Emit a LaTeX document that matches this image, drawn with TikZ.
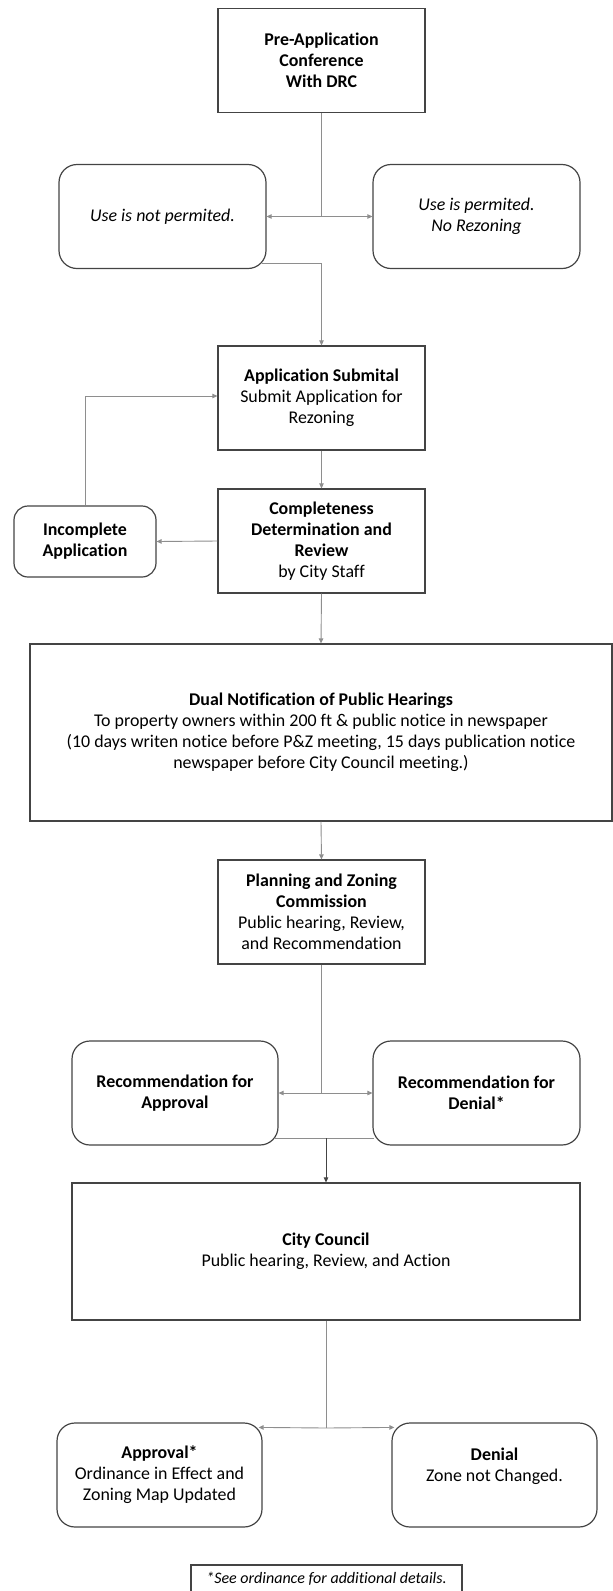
\documentclass[tikz,border=0pt]{standalone}
\usepackage{fontspec}
\setmainfont{Carlito}[Ligatures=NoCommon]
\usetikzlibrary{arrows.meta, positioning, calc}
\definecolor{boxline}{HTML}{444444}
\definecolor{linkline}{HTML}{8E8E8E}

\begin{document}
\begin{tikzpicture}[x=1pt, y=-1pt,
    stepbox/.style={rectangle, draw=boxline, line width=1.2pt, minimum width=207pt, minimum height=104pt, inner sep=2pt, align=center},
    choicebox/.style={stepbox, rounded corners=18pt},
    link/.style={draw=linkline, line width=0.9pt},
    arrow/.style={link, -{Triangle[length=5pt, width=4.5pt]}},
    font=\fontsize{17.9}{21}\selectfont
  ]
  \useasboundingbox (0, 0) rectangle (613, 1591);

  \node[stepbox] (pre) at (321.5, 60.5) {\textbf{Pre-Application}\\\textbf{Conference}\\\textbf{With DRC}};
  \node[choicebox] (notok) at (162.5, 216.5) {\textit{Use is not permited.}};
  \node[choicebox] (ok) at (476.5, 216.5) {\textit{Use is permited.}\\\textit{No Rezoning}};

  \node[stepbox] (submit) at (321.5, 398) {\textbf{Application Submital}\\Submit Application for\\Rezoning};
  \node[stepbox] (review) at (321.5, 541) {\textbf{Completeness}\\\textbf{Determination and}\\\textbf{Review}\\by City Staff};
  \node[choicebox, rounded corners=14pt, minimum width=142pt, minimum height=71pt] (incomplete) at (85, 541.5) {\textbf{Incomplete}\\\textbf{Application}};

  \node[stepbox, minimum width=582pt, minimum height=177pt] (notice) at (321, 732.5)
    {\textbf{Dual Notification of Public Hearings}\\To property owners within 200 ft \& public notice in newspaper\\(10 days writen notice before P\&Z meeting, 15 days publication notice\\newspaper before City Council meeting.)};
  \node[stepbox] (pz) at (321.5, 912) {\textbf{Planning and Zoning}\\\textbf{Commission}\\Public hearing, Review,\\and Recommendation};

  \node[choicebox, minimum width=206pt] (recyes) at (175, 1093) {\textbf{Recommendation for}\\\textbf{Approval}};
  \node[choicebox] (recno) at (476.5, 1093) {\textbf{Recommendation for}\\\textbf{Denial*}};

  \node[stepbox, minimum width=508pt, minimum height=137pt] (council) at (326, 1251.5) {\textbf{City Council}\\Public hearing, Review, and Action};

  \node[choicebox, minimum width=205pt] (approve) at (159.5, 1475) {\textbf{Approval*}\\Ordinance in Effect and\\Zoning Map Updated};
  \node[choicebox, minimum width=205pt] (deny) at (494.5, 1475) {\textbf{Denial}\\Zone not Changed.\\\mbox{}};

  \node[stepbox, minimum width=271pt, minimum height=28pt, font=\fontsize{16}{19}\selectfont] (note) at (326.5, 1579) {\textit{*See ordinance for additional details.}};

  % pre-application split
  \draw[link] (pre.south) -- (pre.south |- notok.east) coordinate (split1);
  \draw[arrow] (split1) -- (notok.east);
  \draw[arrow] (split1) -- (ok.west);
  \draw[arrow] ([xshift=-5pt, yshift=6pt] notok.south east) -| (submit.north);

  % submittal loop
  \draw[arrow] (submit.south) -- (review.north);
  \draw[arrow] (review.west) -- (incomplete.east);
  \draw[arrow] (incomplete.north) |- ([yshift=2pt] submit.west);
  \draw[arrow] (review.south) -- (notice.north);
  \draw[arrow] (notice.south) -- (pz.north);

  % commission split
  \draw[link] (pz.south) -- (pz.south |- recyes.east) coordinate (split2);
  \draw[arrow] (split2) -- (recyes.east);
  \draw[arrow] (split2) -- (recno.west);
  \draw[link] ([xshift=-5pt, yshift=7pt] recyes.south east) -- ([xshift=2pt, yshift=7pt] recno.south west);
  \draw[arrow, draw=boxline] (council.north |- 0, 1138) -- (council.north);

  % council split
  \draw[link] (council.south) -- (council.south |- 0, 1428) coordinate (split3);
  \draw[arrow] (split3) -- ([xshift=-4pt, yshift=-5pt] approve.north east);
  \draw[arrow] (split3) -- ([xshift=3pt, yshift=-5pt] deny.north west);

\end{tikzpicture}
\end{document}
